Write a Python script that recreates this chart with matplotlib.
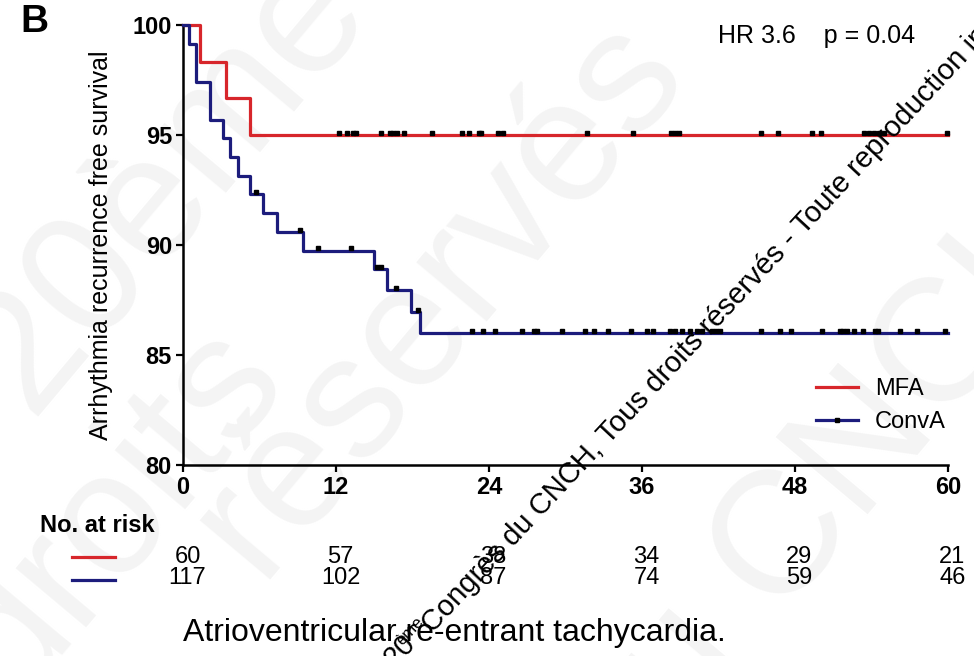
import numpy as np
import matplotlib
matplotlib.use("Agg")
import matplotlib.pyplot as plt
import matplotlib.transforms as mtransforms
from matplotlib.lines import Line2D

plt.rcParams['font.family'] = ['Liberation Sans', 'DejaVu Sans']

# Kaplan-Meier steps (months, % free of recurrence)
mfa_t = [0, 1.3, 3.4, 5.25, 60]
mfa_s = [100, 98.33, 96.67, 95.0, 95.0]
conv_t = [0, 0.45, 1.0, 2.1, 3.1, 3.7, 4.3, 5.25, 6.3, 7.35, 9.4, 15.0, 16.0, 17.9, 18.6, 60]
conv_s = [100, 99.14, 97.4, 95.7, 94.85, 94.0, 93.15, 92.3, 91.45, 90.6, 89.75,
          88.9, 87.95, 86.95, 86.0, 86.0]

# censored observations
mfa_cens = [12.2, 12.9, 13.3, 13.6, 15.5, 16.2, 16.5, 16.8, 17.3, 19.5, 21.9, 22.4,
            23.2, 23.4, 24.7, 25.1, 31.7, 35.3, 38.3, 38.6, 38.9, 45.3, 46.7, 49.3,
            50.0, 53.4, 53.8, 54.2, 54.6, 55.0, 59.9]
conv_cens = [5.7, 9.2, 10.6, 13.2, 15.2, 15.5, 16.7, 18.4, 22.7, 23.5, 24.5, 26.6,
             27.5, 27.8, 29.7, 31.5, 32.2, 33.3, 35.1, 36.4, 36.9, 38.2, 38.6, 39.1,
             39.8, 40.3, 40.7, 41.5, 41.8, 42.1, 45.3, 46.8, 47.7, 50.1, 51.5, 51.8,
             52.1, 52.6, 53.3, 54.3, 54.5, 56.2, 57.6, 59.8]

# number at risk
risk_times = [0, 12, 24, 36, 48, 60]
mfa_risk = [60, 57, 38, 34, 29, 21]
conv_risk = [117, 102, 87, 74, 59, 46]

red = '#d7262b'
navy = '#1c1c7c'


def surv_at(times, surv, x):
    idx = np.searchsorted(times, x, side='right') - 1
    return np.array(surv)[idx]


fig = plt.figure(figsize=(9.74, 6.56), dpi=100)

# faint background watermark
wm = dict(color='#f4f4f4', fontsize=125, rotation=50, ha='center', va='center',
          zorder=-5)
fig.text(0.17, 0.72, '20ème', **wm)
fig.text(0.45, 0.55, 'réservés', **wm)
fig.text(0.12, 0.22, 'droits', **wm)
fig.text(0.85, 0.25, 'du CNCH', **wm)

ax = fig.add_axes([183 / 974, 1 - 465 / 656, (948 - 183) / 974, 440 / 656])
ax.patch.set_alpha(0)
ax.set_zorder(1)

ax.step(mfa_t, mfa_s, where='post', color=red, lw=2.3, clip_on=False, zorder=3)
ax.step(conv_t, conv_s, where='post', color=navy, lw=2.3, clip_on=False, zorder=3)
ax.plot(mfa_cens, surv_at(mfa_t, mfa_s, mfa_cens) + 0.1, 's', color='k', ms=3.2,
        clip_on=False, zorder=4)
ax.plot(conv_cens, surv_at(conv_t, conv_s, conv_cens) + 0.1, 's', color='k', ms=3.2,
        clip_on=False, zorder=4)

ax.set_xlim(0, 60)
ax.set_ylim(80, 100)
ax.set_xticks(risk_times)
ax.set_yticks([80, 85, 90, 95, 100])
for s in ['top', 'right']:
    ax.spines[s].set_visible(False)
for s in ['left', 'bottom']:
    ax.spines[s].set_linewidth(1.8)
ax.tick_params(direction='out', length=5, width=1.6, labelsize=17, pad=3)
for lab in ax.get_xticklabels() + ax.get_yticklabels():
    lab.set_fontweight('bold')

ax.set_ylabel('Arrhythmia recurrence free survival', fontsize=18, labelpad=14)

ax.text(0.7, 0.975, 'HR 3.6    p = 0.04', transform=ax.transAxes, fontsize=18,
        ha='left', va='center')

handles = [Line2D([], [], color=red, lw=2.3),
           Line2D([], [], color=navy, lw=2.3, marker='s', ms=3.2, mfc='k', mec='k')]
ax.legend(handles, ['MFA', 'ConvA'], loc='upper right', bbox_to_anchor=(1.025, 0.245),
          frameon=False, fontsize=17, handlelength=1.8, numpoints=1,
          labelspacing=0.45, handletextpad=0.7)

fig.text(20 / 974, 1 - 22 / 656, 'B', fontsize=28, fontweight='bold', va='center')

# number at risk table
fig.text(40 / 974, 1 - 525 / 656, 'No. at risk', fontsize=17, fontweight='bold',
         va='center')
tr = mtransforms.blended_transform_factory(ax.transData, fig.transFigure)
for t, a, b in zip(risk_times, mfa_risk, conv_risk):
    fig.text(t + 0.35, 1 - 557 / 656, str(a), transform=tr, fontsize=17,
             ha='center', va='center')
    fig.text(t + 0.35, 1 - 578 / 656, str(b), transform=tr, fontsize=17,
             ha='center', va='center')
fig.add_artist(Line2D([72 / 974, 115 / 974], [1 - 557 / 656] * 2, color=red, lw=2.3,
                      transform=fig.transFigure))
fig.add_artist(Line2D([72 / 974, 115 / 974], [1 - 580 / 656] * 2, color=navy, lw=2.3,
                      transform=fig.transFigure))

fig.text(183 / 974, 1 - 633 / 656, 'Atrioventricular re-entrant tachycardia.',
         fontsize=23, va='center')

# diagonal copyright overlay
ov = dict(rotation=47, rotation_mode='anchor', va='baseline', zorder=10)
fig.text(433 / 974, 1 - 634 / 656,
         'Congrès du CNCH, Tous droits réservés - Toute reproduction interdite',
         fontsize=21, ha='left', **ov)
fig.text(424 / 974, 1 - 622 / 656, 'ème', fontsize=12, ha='right', **ov)
fig.text(394 / 974, 1 - 668 / 656, '20', fontsize=21, ha='left', **ov)

fig.savefig('out.png', dpi=100)
